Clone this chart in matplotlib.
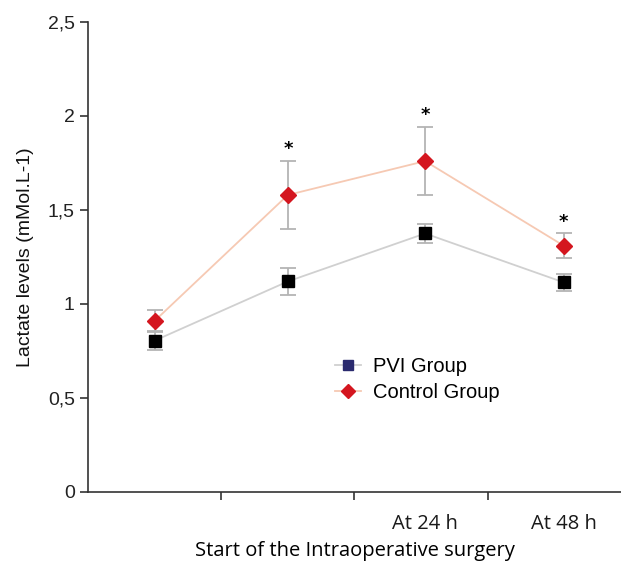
import matplotlib.pyplot as plt
from matplotlib.lines import Line2D

plt.rcParams['font.family'] = ['Liberation Sans', 'DejaVu Sans']

# measurement time points on the x axis
time_pos = [0.5, 1.5, 2.53, 3.57]
time_labels = ['', '', 'At 24 h', 'At 48 h']

pvi_mean = [0.805, 1.12, 1.375, 1.115]
pvi_err = [0.05, 0.07, 0.05, 0.045]

ctrl_mean = [0.91, 1.58, 1.76, 1.31]
ctrl_err = [0.06, 0.18, 0.18, 0.065]

# points with a significant difference between groups
signif = [False, True, True, True]

fig = plt.figure(figsize=(6.21, 5.64), dpi=100)
ax = fig.add_axes([0.1417, 0.1277, 0.8583, 0.8333])

ax.errorbar(time_pos, pvi_mean, yerr=pvi_err, fmt='none', ecolor='#b4b4b4',
            elinewidth=1.3, capsize=6, capthick=1.3, zorder=2)
ax.errorbar(time_pos, ctrl_mean, yerr=ctrl_err, fmt='none', ecolor='#b4b4b4',
            elinewidth=1.3, capsize=6, capthick=1.3, zorder=2)
ax.plot(time_pos, pvi_mean, color='#d0d0d0', lw=1.3, marker='s', ms=8.5,
        mfc='black', mec='black', zorder=3)
ax.plot(time_pos, ctrl_mean, color='#f6c9b3', lw=1.3, marker='D', ms=8.5,
        mfc='#d4161f', mec='#d4161f', zorder=4)

for x, m, e, s in zip(time_pos, ctrl_mean, ctrl_err, signif):
    if s:
        ax.text(x, m + e + 0.015, '*', ha='center', va='bottom',
                fontsize=13, fontweight='bold', family='DejaVu Sans')

ax.set_xlim(0, 4)
ax.set_ylim(0, 2.5)
ax.set_yticks([0, 0.5, 1, 1.5, 2, 2.5])
ax.set_yticklabels(['0', '0,5', '1', '1,5', '2', '2,5'])
ax.set_xticks([1, 2, 3])
ax.set_xticklabels([])
ax.set_xticks(time_pos, minor=True)
ax.set_xticklabels(time_labels, minor=True, family=['Open Sans', 'DejaVu Sans'])
ax.tick_params(axis='x', which='minor', length=0, pad=16, labelsize=14.5, colors='#1a1a1a')
ax.tick_params(axis='both', which='major', length=6, width=1.2, color='#333333',
               labelsize=14, labelcolor='#222222')

for side in ['top', 'right']:
    ax.spines[side].set_visible(False)
for side in ['left', 'bottom']:
    ax.spines[side].set_color('#333333')
    ax.spines[side].set_linewidth(1.2)

ax.set_xlabel('Start of the Intraoperative surgery', fontsize=14.5, labelpad=5,
              color='#000000', family=['Open Sans', 'DejaVu Sans'])
ax.set_ylabel('Lactate levels (mMol.L-1)', fontsize=14, labelpad=10, color='#111111')

handles = [
    Line2D([], [], color='#d0d0d0', lw=1.3, marker='s', ms=7, mfc='#2a2a6e', mec='#2a2a6e'),
    Line2D([], [], color='#f6c9b3', lw=1.3, marker='D', ms=7.5, mfc='#d4161f', mec='#d4161f'),
]
ax.legend(handles, ['PVI Group', 'Control Group'], loc='upper left',
          bbox_to_anchor=(0.43, 0.325), frameon=False, fontsize=14.5,
          handlelength=1.3, handletextpad=0.55, labelspacing=0.35)

fig.savefig('out.png', dpi=100)
